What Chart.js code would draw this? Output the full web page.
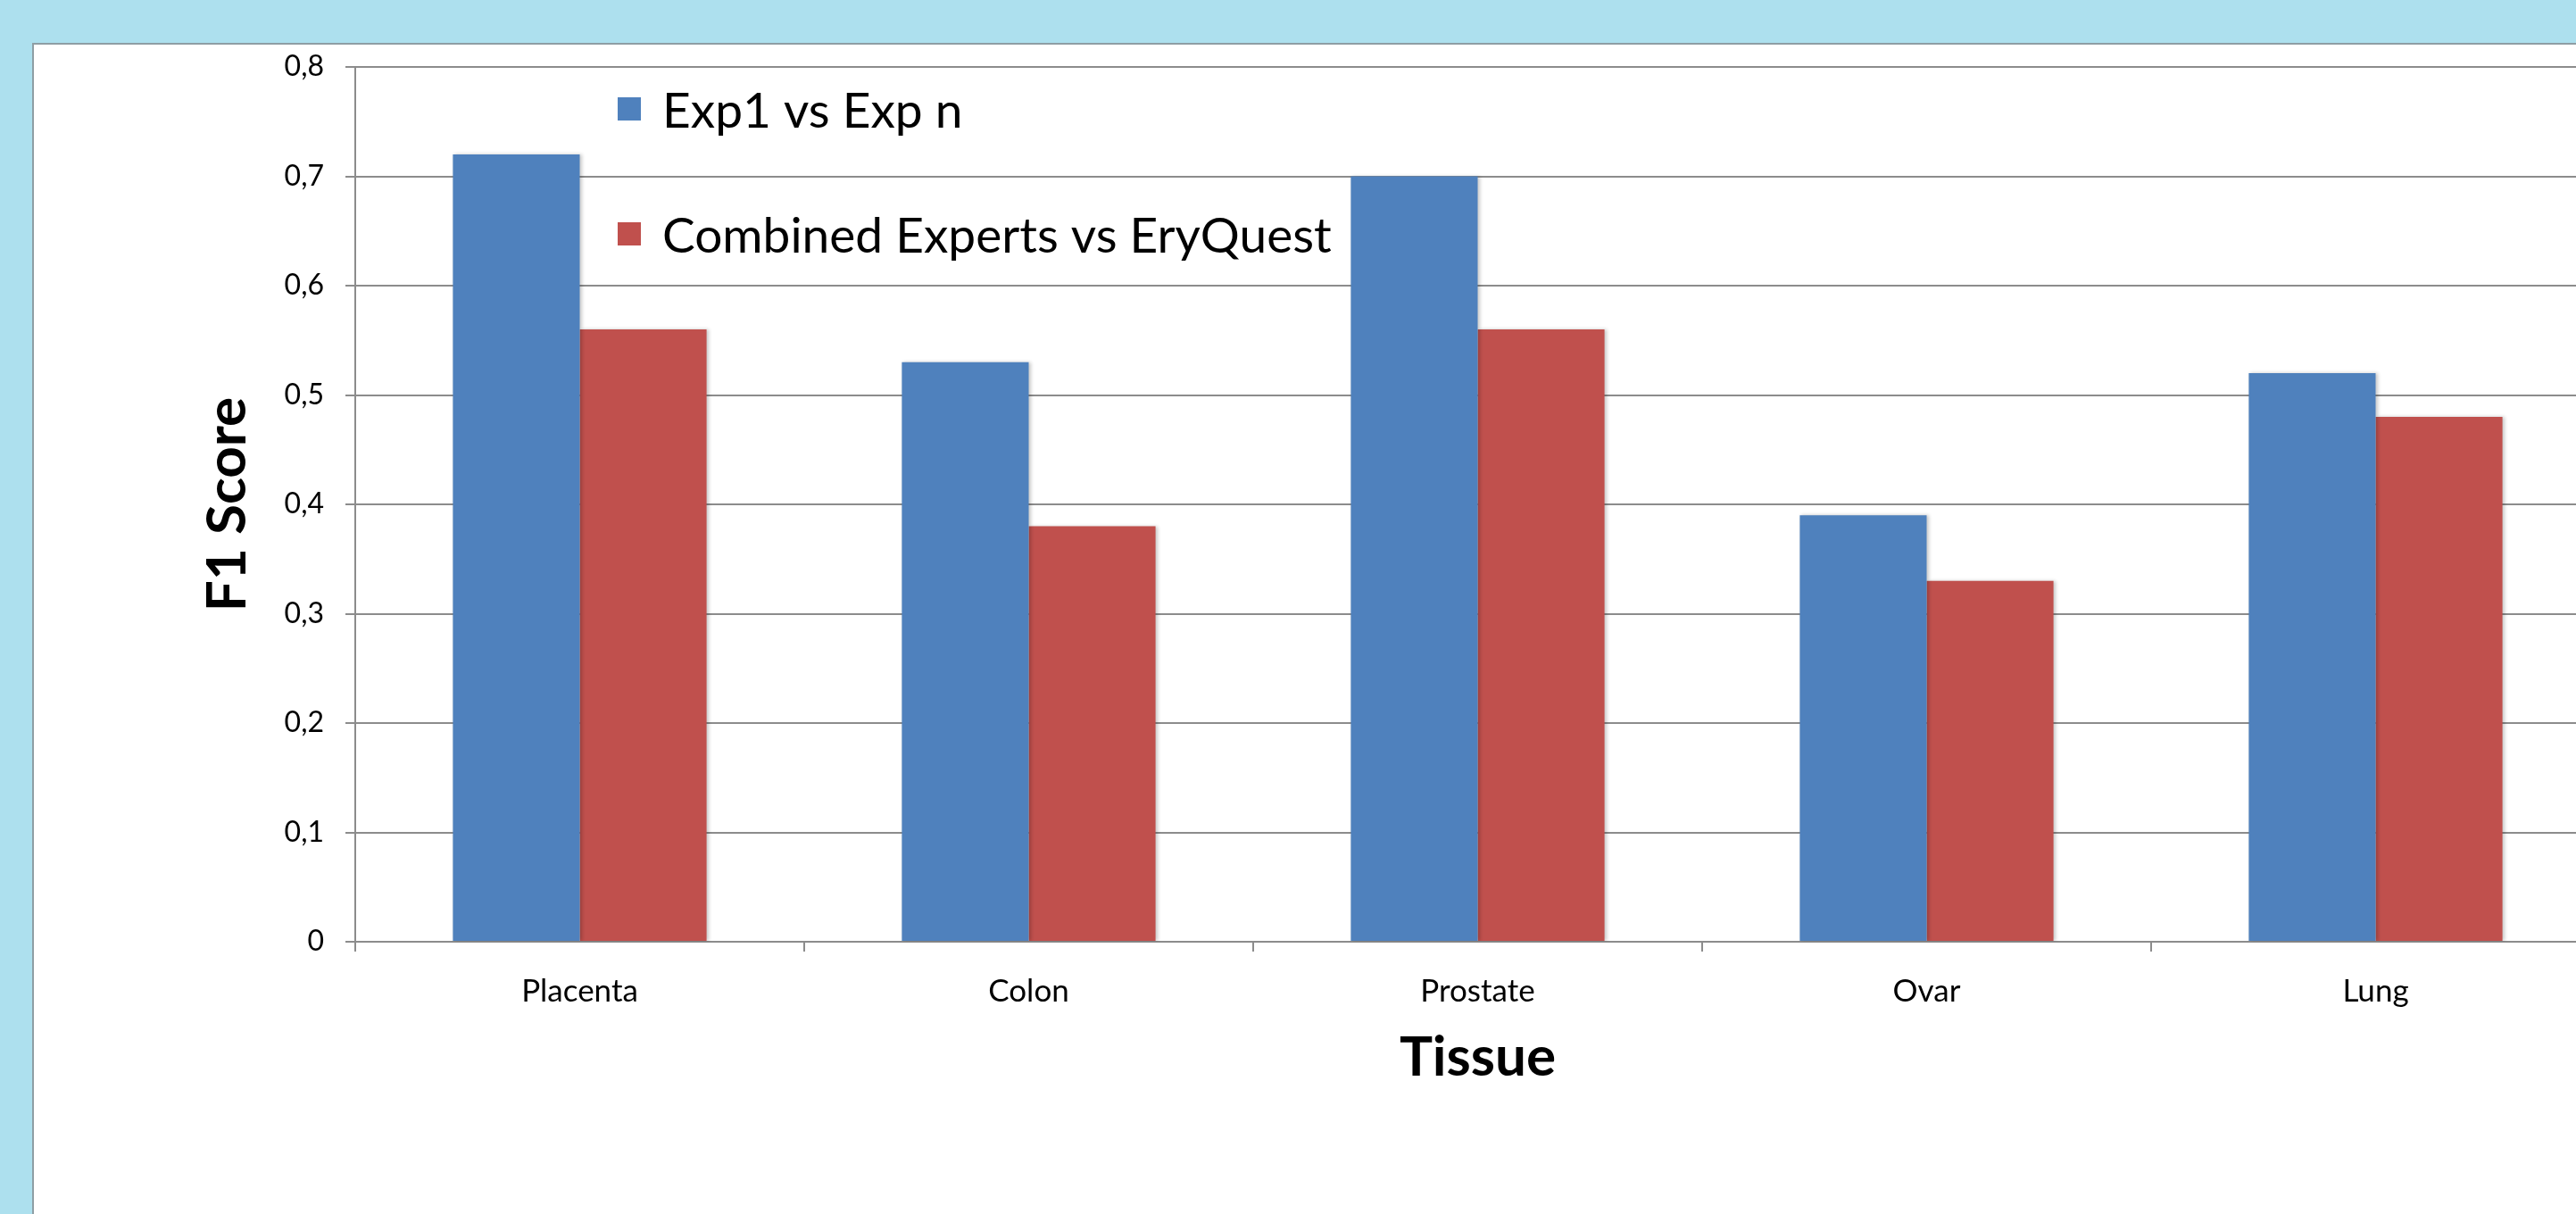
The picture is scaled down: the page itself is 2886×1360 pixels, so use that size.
<!DOCTYPE html>
<html>
<head>
<meta charset="utf-8">
<script src="https://cdn.jsdelivr.net/npm/chart.js@4.4.1/dist/chart.umd.min.js"></script>
<style>
  html, body { margin: 0; padding: 0; width: 2886px; height: 1360px; overflow: hidden; background: #ade0ee; }
  #panel { position: absolute; left: 36px; top: 48px; width: 2920px; height: 1340px; background: #ffffff;
           border-left: 2px solid #8e9ea4; border-top: 2px solid #8e9ea4; }
  #c { position: absolute; left: 0; top: 0; }
</style>
</head>
<body>
<div id="panel"><canvas id="c" width="2900" height="1312"></canvas></div>
<script>
const categories = ['Placenta', 'Colon', 'Prostate', 'Ovar', 'Lung'];
const seriesNames = ['Exp1 vs Exp n', 'Combined Experts vs EryQuest'];
const exp1VsExpN = [0.72, 0.53, 0.70, 0.39, 0.52];
const combinedVsEryQuest = [0.56, 0.38, 0.56, 0.33, 0.48];
const yTickLabels = ['0', '0,1', '0,2', '0,3', '0,4', '0,5', '0,6', '0,7', '0,8'];
const xTitle = 'Tissue';
const yTitle = 'F1 Score';

const FONT = 'Lato, "Open Sans", sans-serif';

const legendPlugin = {
  id: 'insideLegend',
  afterDraw(chart) {
    const ctx = chart.ctx;
    const ca = chart.chartArea;
    ctx.save();
    ctx.font = '55px ' + FONT;
    ctx.textBaseline = 'middle';
    ctx.textAlign = 'left';
    chart.data.datasets.forEach((ds, i) => {
      const x = ca.left + 294;
      const y = ca.top + 34 + i * 140;
      ctx.fillStyle = ds.backgroundColor;
      ctx.fillRect(x, y, 26, 26);
      ctx.fillStyle = '#000000';
      ctx.fillText(ds.label, x + 50, y + 16);
    });
    ctx.restore();
  }
};

const shadowPlugin = {
  id: 'barShadow',
  beforeDatasetsDraw(chart) {
    const ctx = chart.ctx;
    ctx.save();
    ctx.shadowColor = 'rgba(0,0,0,0.22)';
    ctx.shadowBlur = 4;
    ctx.shadowOffsetX = 2;
    ctx.shadowOffsetY = 0;
  },
  afterDatasetsDraw(chart) {
    chart.ctx.restore();
  }
};

new Chart(document.getElementById('c'), {
  type: 'bar',
  data: {
    labels: categories,
    datasets: [
      { label: seriesNames[0], data: exp1VsExpN, backgroundColor: '#4f81bd', borderWidth: 0 },
      { label: seriesNames[1], data: combinedVsEryQuest, backgroundColor: '#c0504d', borderWidth: 0 }
    ]
  },
  options: {
    responsive: false,
    animation: false,
    devicePixelRatio: 1,
    layout: { padding: { top: 25, right: 25, bottom: 0, left: 0 } },
    datasets: { bar: { categoryPercentage: 0.565, barPercentage: 1.0 } },
    plugins: { legend: { display: false }, tooltip: { enabled: false } },
    scales: {
      x: {
        afterFit(s) { s.height = 307; },
        grid: { offset: true, drawOnChartArea: false, drawTicks: true, tickLength: 11, color: '#8c8c8c', lineWidth: 2 },
        border: { display: true, color: '#8c8c8c', width: 2 },
        ticks: { color: '#000000', font: { family: FONT, size: 35 }, padding: 24, maxRotation: 0 },
        title: { display: true, text: xTitle, color: '#000000', font: { family: FONT, size: 62, weight: 'bold' }, padding: { top: 0, bottom: 140 } }
      },
      y: {
        min: 0, max: 0.8,
        afterFit(s) { s.width = 360; s.paddingTop = 0; s.paddingBottom = 0; },
        grid: { drawTicks: true, tickLength: 11, color: '#8c8c8c', lineWidth: 2 },
        border: { display: true, color: '#8c8c8c', width: 2 },
        ticks: {
          stepSize: 0.1, color: '#000000', font: { family: FONT, size: 32 }, padding: 24,
          callback: (v, i) => yTickLabels[i]
        },
        title: { display: true, text: yTitle, color: '#000000', font: { family: FONT, size: 62, weight: 'bold' }, padding: { top: 180, bottom: 0 } }
      }
    }
  },
  plugins: [shadowPlugin, legendPlugin]
});
</script>
</body>
</html>
